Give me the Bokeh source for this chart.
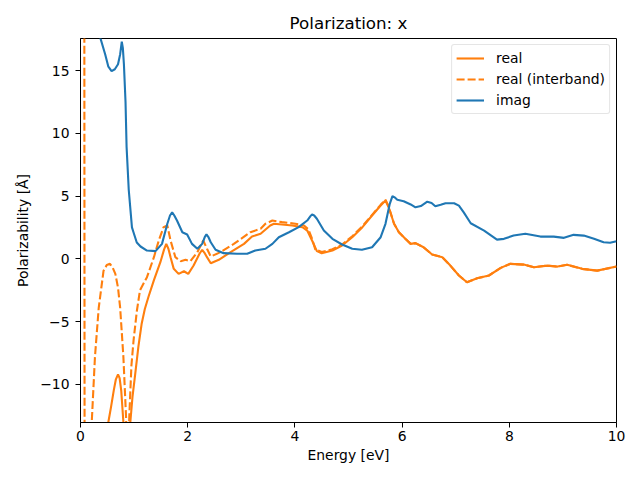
from bokeh.plotting import figure
from bokeh.models import FixedTicker, Legend, LegendItem, Range1d
from bokeh.embed import file_html
from bokeh.resources import INLINE

# ---- data ----
imag_x = [0.02, 0.10, 0.20, 0.30, 0.37, 0.46, 0.52, 0.58, 0.64, 0.70, 0.74, 0.77, 0.79, 0.81,
          0.84, 0.86, 0.90, 0.96, 0.99, 1.05, 1.12, 1.24, 1.40, 1.52, 1.62, 1.67, 1.71, 1.75, 1.80, 1.90,
          1.99, 2.08, 2.18, 2.27, 2.32, 2.35, 2.39, 2.43, 2.52, 2.67, 2.92, 3.11, 3.26, 3.45, 3.58, 3.70,
          3.89, 4.07, 4.23, 4.29, 4.32, 4.36, 4.41, 4.54, 4.70, 4.88, 5.07, 5.25, 5.44, 5.60, 5.69, 5.77,
          5.82, 5.86, 5.91, 6.03, 6.16, 6.25, 6.35, 6.47, 6.55, 6.62, 6.72, 6.81, 6.97, 7.06, 7.15, 7.28, 7.53, 7.77,
          7.90, 8.08, 8.30, 8.58, 8.83, 9.02, 9.20, 9.39, 9.58, 9.76, 9.88, 10.0]
imag_y = [60.0, 35.0, 23.0, 19.0, 17.6, 16.3, 15.3, 14.95, 15.1, 15.5, 16.3, 17.3, 16.8, 15.5,
          12.5, 8.9, 5.5, 2.5, 2.1, 1.3, 0.98, 0.66, 0.61, 1.19, 2.79, 3.45, 3.71, 3.45, 3.05, 2.12,
          1.94, 1.19, 0.80, 1.19, 1.75, 1.94, 1.70, 1.32, 0.72, 0.45, 0.40, 0.40, 0.66, 0.80, 1.19, 1.72,
          2.12, 2.52, 3.05, 3.40, 3.53, 3.45, 3.19, 2.25, 1.59, 1.14, 0.80, 0.72, 0.92, 1.72, 2.79, 4.38,
          5.00, 4.90, 4.70, 4.59, 4.33, 4.10, 4.20, 4.55, 4.45, 4.19, 4.30, 4.43, 4.43, 4.24, 3.70, 2.83, 2.25, 1.53,
          1.59, 1.85, 1.99, 1.77, 1.77, 1.67, 1.91, 1.85, 1.59, 1.32, 1.28, 1.40]

real_x = [0.05, 0.20, 0.40, 0.52, 0.57, 0.62, 0.66, 0.70, 0.73, 0.76, 0.80, 0.84, 0.88, 0.93,
          0.97, 1.02, 1.08, 1.14, 1.20, 1.27, 1.37, 1.49, 1.56, 1.60, 1.64, 1.68, 1.74, 1.83, 1.93, 2.01,
          2.11, 2.22, 2.27, 2.31, 2.36, 2.43, 2.58, 2.80, 3.05, 3.20, 3.36, 3.54, 3.61, 3.76, 3.95, 4.14,
          4.23, 4.32, 4.41, 4.50, 4.70, 4.88, 5.07, 5.26, 5.44, 5.60, 5.69, 5.75, 5.85, 5.94,
          6.06, 6.16, 6.25, 6.40, 6.56, 6.75, 6.90, 7.06, 7.21, 7.40, 7.62, 7.84, 8.02, 8.27,
          8.46, 8.71, 8.90, 9.08, 9.36, 9.64, 10.0]
real_y = [-100.0, -40.0, -18.0, -13.0, -11.8, -10.5, -9.6, -9.2, -9.5, -10.5, -13.0, -18.0, -18.0, -13.0,
          -11.0, -9.2, -7.0, -5.2, -4.0, -3.0, -1.7, -0.27, 0.75, 1.19, 0.80, 0.13, -0.80, -1.20, -0.99, -1.20,
          -0.53, 0.40, 0.72, 0.50, 0.13, -0.35, -0.08, 0.53, 1.19, 1.78, 1.99, 2.65, 2.79, 2.73, 2.65, 2.52,
          2.25, 1.46, 0.61, 0.45, 0.66, 1.06, 1.72, 2.52, 3.45, 4.25, 4.65, 4.11, 2.79, 2.12,
          1.59, 1.19, 1.25, 0.92, 0.34, 0.13, -0.54, -1.33, -1.87, -1.55, -1.33, -0.72, -0.40, -0.46,
          -0.67, -0.54, -0.62, -0.48, -0.80, -0.94, -0.62]

inter_x = [0.0, 0.07, 0.078, 0.12, 0.17, 0.21, 0.27, 0.34, 0.43, 0.49, 0.55, 0.60, 0.65, 0.70,
           0.74, 0.80, 0.85, 0.87, 0.89, 0.91, 0.95, 0.99, 1.05, 1.11, 1.24, 1.37, 1.46, 1.55,
           1.62, 1.68, 1.77, 1.87, 1.96, 2.05, 2.18, 2.29, 2.36, 2.43, 2.61, 2.86, 3.17, 3.36,
           3.45, 3.58, 3.76, 4.01, 4.17, 4.25, 4.32, 4.38, 4.50, 4.70, 4.88, 5.07, 5.26, 5.44,
           5.60, 5.69, 5.75, 5.85, 5.94, 6.06, 6.16, 6.25, 6.40, 6.56, 6.75, 6.90, 7.06, 7.21,
           7.40, 7.62, 7.84, 8.02, 8.27, 8.46, 8.71, 8.90, 9.08, 9.36, 9.64, 10.0]
inter_y = [300.0, 30.0, -30.0, -40.0, -22.0, -13.0, -7.8, -3.9, -0.95, -0.5, -0.4, -0.7, -1.2, -2.3,
           -3.9, -7.8, -12.6, -16.0, -15.0, -12.6, -8.5, -6.5, -4.2, -2.5, -1.46, 0.13, 1.46, 2.52,
           2.65, 1.46, 0.13, -0.19, -0.08, -0.19, 0.53, 1.46, 0.80, 0.18, 0.53, 1.19, 2.12, 2.39,
           2.79, 3.05, 2.92, 2.79, 2.65, 2.35, 1.60, 0.75, 0.55, 0.76, 1.14, 1.80, 2.60, 3.50,
           4.30, 4.70, 4.15, 2.79, 2.12, 1.59, 1.19, 1.25, 0.92, 0.34, 0.13, -0.54, -1.33, -1.87,
           -1.55, -1.33, -0.72, -0.40, -0.46, -0.67, -0.54, -0.62, -0.48, -0.80, -0.94, -0.62]

x_ticks = [0, 2, 4, 6, 8, 10]
y_ticks = [-10, -5, 0, 5, 10, 15]
y_tick_labels = {-10: "\u221210", -5: "\u22125", 0: "0", 5: "5", 10: "10", 15: "15"}

ORANGE = "#ff7f0e"
BLUE = "#1f77b4"
FONT = "DejaVu Sans"

p = figure(width=632, height=472, output_backend="svg", toolbar_location=None,
           x_range=Range1d(0, 10), y_range=Range1d(-13.04, 17.55),
           title="Polarization: x",
           min_border_left=80, min_border_right=16, min_border_top=38, min_border_bottom=50)

p.title.align = "center"
p.title.vertical_align = "middle"
p.title.text_font = FONT
p.title.text_font_size = "16.7px"
p.title.text_font_style = "normal"
p.title.text_color = "black"

p.xgrid.visible = False
p.ygrid.visible = False
p.outline_line_color = "black"
p.outline_line_alpha = 1.0
p.outline_line_width = 1

for ax in (p.xaxis[0], p.yaxis[0]):
    ax.axis_line_color = "black"
    ax.major_tick_line_color = "black"
    ax.major_tick_out = 5
    ax.major_tick_in = 0
    ax.minor_tick_line_color = None
    ax.major_label_text_font = FONT
    ax.major_label_text_font_size = "13.9px"
    ax.major_label_text_color = "black"
    ax.axis_label_text_font = FONT
    ax.axis_label_text_font_size = "13.9px"
    ax.axis_label_text_font_style = "normal"
    ax.axis_label_text_color = "black"

p.xaxis.ticker = FixedTicker(ticks=x_ticks)
p.yaxis.ticker = FixedTicker(ticks=y_ticks)
p.yaxis.major_label_overrides = y_tick_labels
p.xaxis.axis_label = "Energy [eV]"
p.yaxis.axis_label = "Polarizability [\u00c5]"
p.xaxis.major_label_standoff = 3
p.yaxis.major_label_standoff = 6
p.xaxis.axis_label_standoff = 3
p.yaxis.axis_label_standoff = 6

r_real = p.line(real_x, real_y, line_color=ORANGE, line_width=2.1)
r_inter = p.line(inter_x, inter_y, line_color=ORANGE, line_width=2.1, line_dash="8 3")
r_imag = p.line(imag_x, imag_y, line_color=BLUE, line_width=2.1)

legend = Legend(items=[LegendItem(label="real", renderers=[r_real]),
                       LegendItem(label="real (interband)", renderers=[r_inter]),
                       LegendItem(label="imag", renderers=[r_imag])],
                location="top_right")
legend.label_text_font = FONT
legend.label_text_font_size = "13.9px"
legend.label_text_color = "black"
legend.glyph_width = 28
legend.glyph_height = 18
legend.label_height = 18
legend.label_standoff = 12
legend.spacing = 3
legend.padding = 4
legend.margin = 6
legend.border_line_color = "#cccccc"
legend.border_line_width = 1
legend.border_radius = 3
legend.background_fill_alpha = 0.8
p.add_layout(legend)

open("out.html", "w").write(file_html(p, INLINE))
